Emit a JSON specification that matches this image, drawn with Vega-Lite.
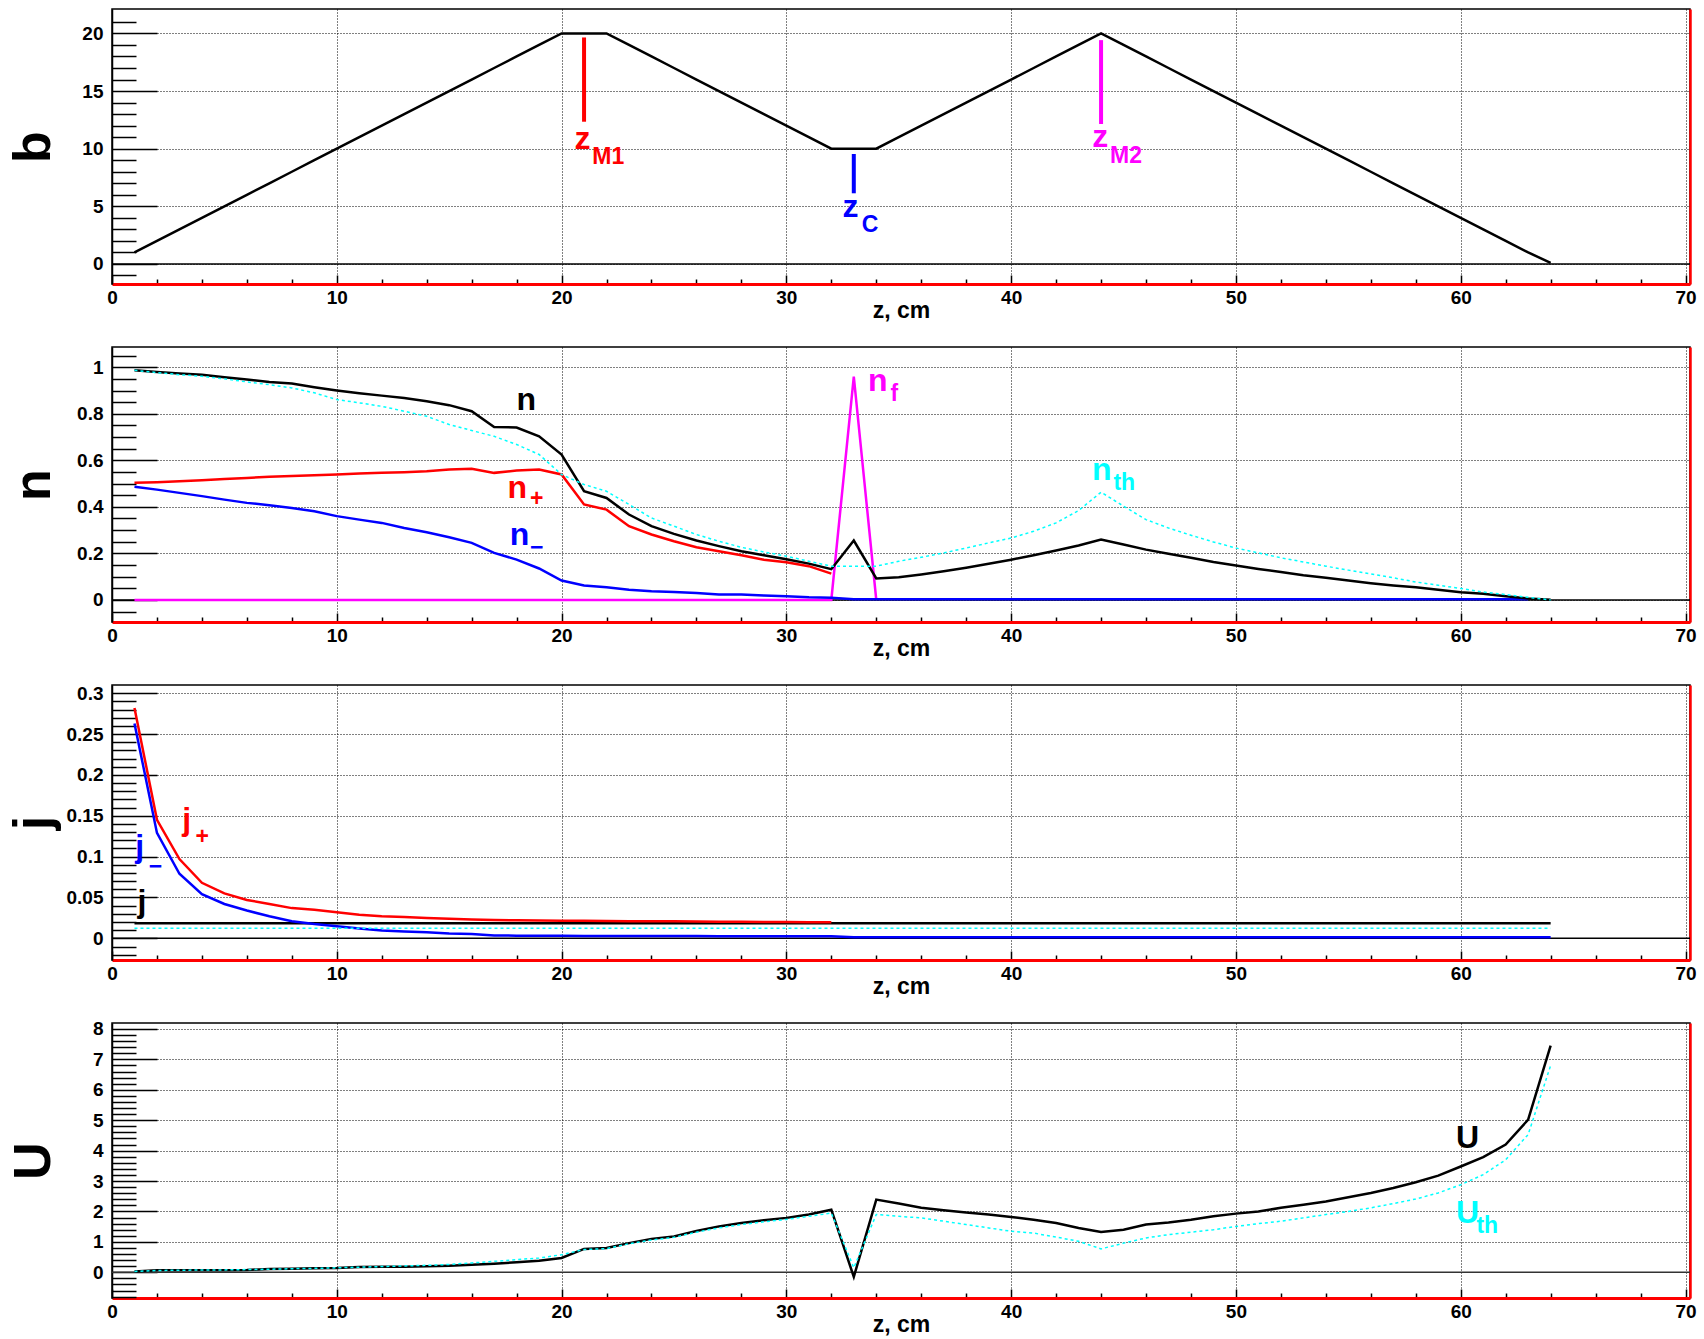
{
  "$schema": "https://vega.github.io/schema/vega-lite/v6.json",
  "background": "white",
  "padding": {"left": 6, "top": 8, "right": 6, "bottom": 0},
  "spacing": 63,
  "bounds": "flush",
  "resolve": {"scale": {"color": "independent"}},
  "config": {
    "view": {"stroke": "#000", "strokeWidth": 1.5},
    "axis": {"labelFont": "Liberation Sans", "labelFontSize": 19, "labelFontWeight": "bold", "labelColor": "#000", "titleFont": "Liberation Sans", "titleColor": "#000", "titleFontWeight": "bold", "gridColor": "#000", "gridDash": [1, 2], "gridWidth": 1, "tickColor": "#000", "tickWidth": 1.5},
    "text": {"font": "Liberation Sans"}
  },
  "datasets": {
    "one": [{"k": 0}],
    "b": [{"z":1,"b":1},{"z":2,"b":2},{"z":3,"b":3},{"z":4,"b":4},{"z":5,"b":5},{"z":6,"b":6},{"z":7,"b":7},{"z":8,"b":8},{"z":9,"b":9},{"z":10,"b":10},{"z":11,"b":11},{"z":12,"b":12},{"z":13,"b":13},{"z":14,"b":14},{"z":15,"b":15},{"z":16,"b":16},{"z":17,"b":17},{"z":18,"b":18},{"z":19,"b":19},{"z":20,"b":20},{"z":21,"b":20},{"z":22,"b":20},{"z":23,"b":19},{"z":24,"b":18},{"z":25,"b":17},{"z":26,"b":16},{"z":27,"b":15},{"z":28,"b":14},{"z":29,"b":13},{"z":30,"b":12},{"z":31,"b":11},{"z":32,"b":10},{"z":33,"b":10},{"z":34,"b":10},{"z":35,"b":11},{"z":36,"b":12},{"z":37,"b":13},{"z":38,"b":14},{"z":39,"b":15},{"z":40,"b":16},{"z":41,"b":17},{"z":42,"b":18},{"z":43,"b":19},{"z":44,"b":20},{"z":45,"b":19},{"z":46,"b":18},{"z":47,"b":17},{"z":48,"b":16},{"z":49,"b":15},{"z":50,"b":14},{"z":51,"b":13},{"z":52,"b":12},{"z":53,"b":11},{"z":54,"b":10},{"z":55,"b":9},{"z":56,"b":8},{"z":57,"b":7},{"z":58,"b":6},{"z":59,"b":5},{"z":60,"b":4},{"z":61,"b":3},{"z":62,"b":2},{"z":63,"b":1},{"z":64,"b":0.1}],
    "bmarks": [{"z":21,"y1":19.65,"y2":12.34,"k":"M1"},{"z":33,"y1":9.54,"y2":6.13,"k":"C"},{"z":44,"y1":19.42,"y2":12.14,"k":"M2"}],
    "btext": [{"z":20.58,"y":10.0,"t":"z","k":"M1"},{"z":32.5,"y":4.05,"t":"z","k":"C"},{"z":43.61,"y":10.12,"t":"z","k":"M2"}],
    "bsub": [{"z":21.37,"y":8.67,"t":"M1","k":"M1"},{"z":33.35,"y":2.75,"t":"C","k":"C"},{"z":44.4,"y":8.76,"t":"M2","k":"M2"}],
    "n": [
      {"z":1,"n":0.987,"np":0.503,"nm":0.486,"nf":0,"nth":0.987},
      {"z":2,"n":0.98,"np":0.506,"nm":0.474,"nf":0,"nth":0.977},
      {"z":3,"n":0.973,"np":0.51,"nm":0.46,"nf":0,"nth":0.968},
      {"z":4,"n":0.968,"np":0.514,"nm":0.446,"nf":0,"nth":0.961},
      {"z":5,"n":0.957,"np":0.52,"nm":0.431,"nf":0,"nth":0.95},
      {"z":6,"n":0.947,"np":0.524,"nm":0.417,"nf":0,"nth":0.937},
      {"z":7,"n":0.937,"np":0.529,"nm":0.407,"nf":0,"nth":0.925},
      {"z":8,"n":0.93,"np":0.533,"nm":0.395,"nf":0,"nth":0.911},
      {"z":9,"n":0.914,"np":0.536,"nm":0.381,"nf":0,"nth":0.89},
      {"z":10,"n":0.9,"np":0.539,"nm":0.36,"nf":0,"nth":0.861},
      {"z":11,"n":0.888,"np":0.543,"nm":0.345,"nf":0,"nth":0.847},
      {"z":12,"n":0.878,"np":0.546,"nm":0.331,"nf":0,"nth":0.832},
      {"z":13,"n":0.868,"np":0.549,"nm":0.309,"nf":0,"nth":0.811},
      {"z":14,"n":0.854,"np":0.553,"nm":0.291,"nf":0,"nth":0.789},
      {"z":15,"n":0.837,"np":0.56,"nm":0.269,"nf":0,"nth":0.754},
      {"z":16,"n":0.811,"np":0.564,"nm":0.245,"nf":0,"nth":0.728},
      {"z":17,"n":0.743,"np":0.546,"nm":0.202,"nf":0,"nth":0.703},
      {"z":18,"n":0.741,"np":0.556,"nm":0.173,"nf":0,"nth":0.668},
      {"z":19,"n":0.703,"np":0.56,"nm":0.135,"nf":0,"nth":0.625},
      {"z":20,"n":0.625,"np":0.539,"nm":0.083,"nf":0,"nth":0.539},
      {"z":21,"n":0.467,"np":0.41,"nm":0.062,"nf":0,"nth":0.496},
      {"z":22,"n":0.438,"np":0.388,"nm":0.054,"nf":0,"nth":0.467},
      {"z":23,"n":0.367,"np":0.317,"nm":0.044,"nf":0,"nth":0.41},
      {"z":24,"n":0.317,"np":0.281,"nm":0.037,"nf":0,"nth":0.352},
      {"z":25,"n":0.284,"np":0.252,"nm":0.034,"nf":0,"nth":0.317},
      {"z":26,"n":0.255,"np":0.226,"nm":0.03,"nf":0,"nth":0.281},
      {"z":27,"n":0.231,"np":0.209,"nm":0.023,"nf":0,"nth":0.252},
      {"z":28,"n":0.209,"np":0.192,"nm":0.023,"nf":0,"nth":0.226},
      {"z":29,"n":0.192,"np":0.173,"nm":0.019,"nf":0,"nth":0.206},
      {"z":30,"n":0.175,"np":0.162,"nm":0.016,"nf":0,"nth":0.188},
      {"z":31,"n":0.156,"np":0.145,"nm":0.011,"nf":0,"nth":0.166},
      {"z":32,"n":0.132,"np":0.113,"nm":0.009,"nf":0,"nth":0.145},
      {"z":33,"n":0.255,"nm":0.003,"nf":0.96,"nth":0.145},
      {"z":34,"n":0.092,"nm":0.003,"nf":0,"nth":0.145},
      {"z":35,"n":0.097,"nm":0.003,"nth":0.166},
      {"z":36,"n":0.109,"nm":0.003,"nth":0.183},
      {"z":37,"n":0.123,"nm":0.003,"nth":0.202},
      {"z":38,"n":0.138,"nm":0.003,"nth":0.223},
      {"z":39,"n":0.155,"nm":0.003,"nth":0.245},
      {"z":40,"n":0.173,"nm":0.003,"nth":0.266},
      {"z":41,"n":0.192,"nm":0.003,"nth":0.295},
      {"z":42,"n":0.212,"nm":0.003,"nth":0.331},
      {"z":43,"n":0.234,"nm":0.003,"nth":0.384},
      {"z":44,"n":0.259,"nm":0.003,"nth":0.463},
      {"z":45,"n":0.238,"nm":0.003,"nth":0.403},
      {"z":46,"n":0.216,"nm":0.003,"nth":0.345},
      {"z":47,"n":0.198,"nm":0.003,"nth":0.309},
      {"z":48,"n":0.181,"nm":0.003,"nth":0.278},
      {"z":49,"n":0.163,"nm":0.003,"nth":0.249},
      {"z":50,"n":0.148,"nm":0.003,"nth":0.223},
      {"z":51,"n":0.133,"nm":0.003,"nth":0.202},
      {"z":52,"n":0.12,"nm":0.003,"nth":0.181},
      {"z":53,"n":0.106,"nm":0.003,"nth":0.163},
      {"z":54,"n":0.095,"nm":0.003,"nth":0.145},
      {"z":55,"n":0.083,"nm":0.003,"nth":0.128},
      {"z":56,"n":0.072,"nm":0.003,"nth":0.112},
      {"z":57,"n":0.062,"nm":0.003,"nth":0.095},
      {"z":58,"n":0.054,"nm":0.003,"nth":0.077},
      {"z":59,"n":0.044,"nm":0.003,"nth":0.063},
      {"z":60,"n":0.033,"nm":0.003,"nth":0.049},
      {"z":61,"n":0.026,"nm":0.003,"nth":0.034},
      {"z":62,"n":0.016,"nm":0.003,"nth":0.023},
      {"z":63,"n":0.006,"nm":0.003,"nth":0.011},
      {"z":64,"n":0.001,"nth":0.0}
    ],
    "ntext": [{"z":18.0,"y":0.818,"t":"n","k":"n"},{"z":17.6,"y":0.438,"t":"n","k":"np"},{"z":17.7,"y":0.238,"t":"n","k":"nm"},{"z":33.63,"y":0.897,"t":"n","k":"nf"},{"z":43.6,"y":0.517,"t":"n","k":"nth"}],
    "nsub": [{"z":18.6,"y":0.403,"t":"+","k":"np"},{"z":18.6,"y":0.193,"t":"−","k":"nm"},{"z":34.63,"y":0.854,"t":"f","k":"nf"},{"z":44.55,"y":0.474,"t":"th","k":"nth"}],
    "j": [
      {"z":1,"j":0.0185,"jp":0.282,"jm":0.263,"jth":0.0122},
      {"z":2,"j":0.0185,"jp":0.145,"jm":0.129,"jth":0.0122},
      {"z":3,"j":0.0185,"jp":0.097,"jm":0.079,"jth":0.0122},
      {"z":4,"j":0.0185,"jp":0.068,"jm":0.054,"jth":0.0122},
      {"z":5,"j":0.0185,"jp":0.055,"jm":0.042,"jth":0.0122},
      {"z":6,"j":0.0185,"jp":0.047,"jm":0.034,"jth":0.0122},
      {"z":7,"j":0.0185,"jp":0.042,"jm":0.027,"jth":0.0122},
      {"z":8,"j":0.0185,"jp":0.037,"jm":0.021,"jth":0.0122},
      {"z":9,"j":0.0185,"jp":0.035,"jm":0.0175,"jth":0.0122},
      {"z":10,"j":0.0185,"jp":0.032,"jm":0.0148,"jth":0.0122},
      {"z":11,"j":0.0185,"jp":0.029,"jm":0.012,"jth":0.0122},
      {"z":12,"j":0.0185,"jp":0.027,"jm":0.0095,"jth":0.0122},
      {"z":13,"j":0.0185,"jp":0.026,"jm":0.0085,"jth":0.0122},
      {"z":14,"j":0.0185,"jp":0.025,"jm":0.0075,"jth":0.0122},
      {"z":15,"j":0.0185,"jp":0.024,"jm":0.006,"jth":0.0122},
      {"z":16,"j":0.0185,"jp":0.023,"jm":0.0052,"jth":0.0122},
      {"z":17,"j":0.0185,"jp":0.0225,"jm":0.0035,"jth":0.0122},
      {"z":18,"j":0.0185,"jp":0.022,"jm":0.0033,"jth":0.0122},
      {"z":19,"j":0.0185,"jp":0.0218,"jm":0.0032,"jth":0.0122},
      {"z":20,"j":0.0185,"jp":0.0216,"jm":0.0031,"jth":0.0122},
      {"z":21,"j":0.0185,"jp":0.0214,"jm":0.003,"jth":0.0122},
      {"z":22,"j":0.0185,"jp":0.0212,"jm":0.003,"jth":0.0122},
      {"z":23,"j":0.0185,"jp":0.021,"jm":0.0029,"jth":0.0122},
      {"z":24,"j":0.0185,"jp":0.021,"jm":0.0029,"jth":0.0122},
      {"z":25,"j":0.0185,"jp":0.0208,"jm":0.0028,"jth":0.0122},
      {"z":26,"j":0.0185,"jp":0.0206,"jm":0.0028,"jth":0.0122},
      {"z":27,"j":0.0185,"jp":0.0204,"jm":0.0027,"jth":0.0122},
      {"z":28,"j":0.0185,"jp":0.0202,"jm":0.0027,"jth":0.0122},
      {"z":29,"j":0.0185,"jp":0.02,"jm":0.0026,"jth":0.0122},
      {"z":30,"j":0.0185,"jp":0.02,"jm":0.0026,"jth":0.0122},
      {"z":31,"j":0.0185,"jp":0.0198,"jm":0.0025,"jth":0.0122},
      {"z":32,"j":0.0185,"jp":0.0196,"jm":0.0025,"jth":0.0122},
      {"z":33,"j":0.0185,"jm":0.0013,"jth":0.0122},
      {"z":34,"j":0.0185,"jm":0.0013,"jth":0.0122},
      {"z":35,"j":0.0185,"jm":0.0013,"jth":0.0122},
      {"z":36,"j":0.0185,"jm":0.0013,"jth":0.0122},
      {"z":37,"j":0.0185,"jm":0.0013,"jth":0.0122},
      {"z":38,"j":0.0185,"jm":0.0013,"jth":0.0122},
      {"z":39,"j":0.0185,"jm":0.0013,"jth":0.0122},
      {"z":40,"j":0.0185,"jm":0.0013,"jth":0.0122},
      {"z":41,"j":0.0185,"jm":0.0013,"jth":0.0122},
      {"z":42,"j":0.0185,"jm":0.0013,"jth":0.0122},
      {"z":43,"j":0.0185,"jm":0.0013,"jth":0.0122},
      {"z":44,"j":0.0185,"jm":0.0013,"jth":0.0122},
      {"z":45,"j":0.0185,"jm":0.0013,"jth":0.0122},
      {"z":46,"j":0.0185,"jm":0.0013,"jth":0.0122},
      {"z":47,"j":0.0185,"jm":0.0013,"jth":0.0122},
      {"z":48,"j":0.0185,"jm":0.0013,"jth":0.0122},
      {"z":49,"j":0.0185,"jm":0.0013,"jth":0.0122},
      {"z":50,"j":0.0185,"jm":0.0013,"jth":0.0122},
      {"z":51,"j":0.0185,"jm":0.0013,"jth":0.0122},
      {"z":52,"j":0.0185,"jm":0.0013,"jth":0.0122},
      {"z":53,"j":0.0185,"jm":0.0013,"jth":0.0122},
      {"z":54,"j":0.0185,"jm":0.0013,"jth":0.0122},
      {"z":55,"j":0.0185,"jm":0.0013,"jth":0.0122},
      {"z":56,"j":0.0185,"jm":0.0013,"jth":0.0122},
      {"z":57,"j":0.0185,"jm":0.0013,"jth":0.0122},
      {"z":58,"j":0.0185,"jm":0.0013,"jth":0.0122},
      {"z":59,"j":0.0185,"jm":0.0013,"jth":0.0122},
      {"z":60,"j":0.0185,"jm":0.0013,"jth":0.0122},
      {"z":61,"j":0.0185,"jm":0.0013,"jth":0.0122},
      {"z":62,"j":0.0185,"jm":0.0013,"jth":0.0122},
      {"z":63,"j":0.0185,"jm":0.0013,"jth":0.0122},
      {"z":64,"j":0.0185,"jm":0.0013,"jth":0.0122}
    ],
    "jtext": [{"z":3.12,"y":0.1327,"t":"j","k":"jp"},{"z":1.03,"y":0.1,"t":"j","k":"jm"},{"z":1.13,"y":0.0327,"t":"j","k":"j"}],
    "jsub": [{"z":3.71,"y":0.116,"t":"+","k":"jp"},{"z":1.63,"y":0.079,"t":"−","k":"jm"}],
    "U": [
      {"z":1,"U":0.03,"Uth":0.03},{"z":2,"U":0.066,"Uth":0.06},{"z":3,"U":0.066,"Uth":0.07},{"z":4,"U":0.07,"Uth":0.075},{"z":5,"U":0.07,"Uth":0.08},
      {"z":6,"U":0.075,"Uth":0.09},{"z":7,"U":0.11,"Uth":0.1},{"z":8,"U":0.12,"Uth":0.12},{"z":9,"U":0.13,"Uth":0.13},{"z":10,"U":0.14,"Uth":0.15},
      {"z":11,"U":0.175,"Uth":0.17},{"z":12,"U":0.18,"Uth":0.19},{"z":13,"U":0.185,"Uth":0.21},{"z":14,"U":0.2,"Uth":0.23},{"z":15,"U":0.22,"Uth":0.26},
      {"z":16,"U":0.25,"Uth":0.31},{"z":17,"U":0.285,"Uth":0.36},{"z":18,"U":0.33,"Uth":0.42},{"z":19,"U":0.38,"Uth":0.47},{"z":20,"U":0.47,"Uth":0.58},
      {"z":21,"U":0.77,"Uth":0.75},{"z":22,"U":0.8,"Uth":0.78},{"z":23,"U":0.96,"Uth":0.94},{"z":24,"U":1.1,"Uth":1.06},{"z":25,"U":1.18,"Uth":1.15},
      {"z":26,"U":1.36,"Uth":1.32},{"z":27,"U":1.51,"Uth":1.46},{"z":28,"U":1.62,"Uth":1.57},{"z":29,"U":1.71,"Uth":1.66},{"z":30,"U":1.79,"Uth":1.74},
      {"z":31,"U":1.9,"Uth":1.84},{"z":32,"U":2.06,"Uth":1.95},{"z":33,"U":-0.15,"Uth":0.15},{"z":34,"U":2.39,"Uth":1.9},{"z":35,"U":2.26,"Uth":1.84},
      {"z":36,"U":2.12,"Uth":1.79},{"z":37,"U":2.04,"Uth":1.68},{"z":38,"U":1.97,"Uth":1.57},{"z":39,"U":1.9,"Uth":1.46},{"z":40,"U":1.82,"Uth":1.35},
      {"z":41,"U":1.73,"Uth":1.29},{"z":42,"U":1.62,"Uth":1.16},{"z":43,"U":1.46,"Uth":1.02},{"z":44,"U":1.33,"Uth":0.77},{"z":45,"U":1.4,"Uth":0.96},
      {"z":46,"U":1.57,"Uth":1.13},{"z":47,"U":1.64,"Uth":1.24},{"z":48,"U":1.73,"Uth":1.32},{"z":49,"U":1.84,"Uth":1.4},{"z":50,"U":1.93,"Uth":1.51},
      {"z":51,"U":2.0,"Uth":1.6},{"z":52,"U":2.12,"Uth":1.68},{"z":53,"U":2.22,"Uth":1.79},{"z":54,"U":2.33,"Uth":1.9},{"z":55,"U":2.47,"Uth":2.0},
      {"z":56,"U":2.61,"Uth":2.12},{"z":57,"U":2.77,"Uth":2.26},{"z":58,"U":2.96,"Uth":2.41},{"z":59,"U":3.18,"Uth":2.61},{"z":60,"U":3.48,"Uth":2.88},
      {"z":61,"U":3.79,"Uth":3.21},{"z":62,"U":4.2,"Uth":3.7},{"z":63,"U":5.02,"Uth":4.53},{"z":64,"U":7.45,"Uth":6.8}
    ],
    "Utext": [{"z":59.79,"y":4.09,"t":"U","k":"U"},{"z":59.79,"y":1.62,"t":"U","k":"Uth"}],
    "Usub": [{"z":60.7,"y":1.29,"t":"th","k":"Uth"}]
  },
  "vconcat": [
    {
      "width": 1578, "height": 275,
      "resolve": {"axis": {"x": "independent", "y": "independent"}},
      "layer": [
        {"data": {"name": "one"}, "mark": {"type": "rule", "color": "#000", "strokeWidth": 1.5},
         "encoding": {"y": {"datum": 0, "type": "quantitative", "axis": {"orient": "right", "domainColor": "#ff0000", "domainWidth": 2.5, "ticks": false, "labels": false, "grid": false, "title": null}}}},
        {"data": {"name": "b"}, "mark": {"type": "line", "color": "#000", "strokeWidth": 2.5},
         "encoding": {
           "x": {"field": "z", "type": "quantitative", "scale": {"domain": [0, 70.2], "nice": false, "zero": false},
                 "axis": {"orient": "bottom", "values": [0,2,4,6,8,10,12,14,16,18,20,22,24,26,28,30,32,34,36,38,40,42,44,46,48,50,52,54,56,58,60,62,64,66,68,70], "labelExpr": "datum.value % 10 === 0 ? datum.label : ''", "tickSize": {"condition": {"test": "datum.value % 10 === 0", "value": -9}, "value": -5}, "labelPadding": 13, "labelFlush": false, "labelOverlap": false, "labelBound": false, "grid": true, "gridOpacity": {"condition": {"test": "datum.value % 10 === 0 && datum.value > 0", "value": 1}, "value": 0}, "domainColor": "#ff0000", "domainWidth": 3, "title": "z, cm", "titleFontSize": 23, "titleY": 33, "titleBaseline": "alphabetic"}},
           "y": {"field": "b", "type": "quantitative", "scale": {"domain": [-1.74, 22.12], "nice": false, "zero": false},
                 "axis": {"orient": "left", "format": "~g", "values": [-1,0,1,2,3,4,5,6,7,8,9,10,11,12,13,14,15,16,17,18,19,20,21], "labelExpr": "datum.value % 5 === 0 ? datum.label : ''", "tickSize": {"condition": {"test": "datum.value % 5 === 0", "value": -45}, "value": -24}, "labelPadding": 54, "labelOverlap": false, "labelFlush": false, "labelBound": false, "grid": true, "gridOpacity": {"condition": {"test": "datum.value % 5 === 0", "value": 1}, "value": 0}, "domainColor": "#000", "domainWidth": 1.5, "title": "b", "titleFontSize": 52, "titleX": -63, "titleBaseline": "alphabetic", "titleAngle": 270}}
         }},
        {"data": {"name": "bmarks"}, "mark": {"type": "rule", "strokeWidth": 4},
         "encoding": {"x": {"field": "z", "type": "quantitative", "axis": null}, "y": {"field": "y1", "type": "quantitative", "axis": null}, "y2": {"field": "y2"},
                      "color": {"field": "k", "type": "nominal", "scale": {"domain": ["M1","C","M2"], "range": ["#ff0000","#0000ff","#ff00ff"]}, "legend": null}}},
        {"data": {"name": "btext"}, "mark": {"type": "text", "align": "left", "baseline": "alphabetic", "fontSize": 32, "fontWeight": "bold"},
         "encoding": {"x": {"field": "z", "type": "quantitative", "axis": null}, "y": {"field": "y", "type": "quantitative", "axis": null}, "text": {"field": "t"},
                      "color": {"field": "k", "type": "nominal", "legend": null}}},
        {"data": {"name": "bsub"}, "mark": {"type": "text", "align": "left", "baseline": "alphabetic", "fontSize": 23, "fontWeight": "bold"},
         "encoding": {"x": {"field": "z", "type": "quantitative", "axis": null}, "y": {"field": "y", "type": "quantitative", "axis": null}, "text": {"field": "t"},
                      "color": {"field": "k", "type": "nominal", "legend": null}}}
      ]
    },
    {
      "width": 1578, "height": 275,
      "resolve": {"axis": {"x": "independent", "y": "independent"}},
      "layer": [
        {"data": {"name": "one"}, "mark": {"type": "rule", "color": "#000", "strokeWidth": 1.5},
         "encoding": {"y": {"datum": 0, "type": "quantitative", "axis": {"orient": "right", "domainColor": "#ff0000", "domainWidth": 2.5, "ticks": false, "labels": false, "grid": false, "title": null}}}},
        {"data": {"name": "n"}, "mark": {"type": "line", "color": "#ff00ff", "strokeWidth": 2.5},
         "encoding": {
           "x": {"field": "z", "type": "quantitative", "scale": {"domain": [0, 70.2], "nice": false, "zero": false},
                 "axis": {"orient": "bottom", "values": [0,2,4,6,8,10,12,14,16,18,20,22,24,26,28,30,32,34,36,38,40,42,44,46,48,50,52,54,56,58,60,62,64,66,68,70], "labelExpr": "datum.value % 10 === 0 ? datum.label : ''", "tickSize": {"condition": {"test": "datum.value % 10 === 0", "value": -9}, "value": -5}, "labelPadding": 13, "labelFlush": false, "labelOverlap": false, "labelBound": false, "grid": true, "gridOpacity": {"condition": {"test": "datum.value % 10 === 0 && datum.value > 0", "value": 1}, "value": 0}, "domainColor": "#ff0000", "domainWidth": 3, "title": "z, cm", "titleFontSize": 23, "titleY": 33, "titleBaseline": "alphabetic"}},
           "y": {"field": "nf", "type": "quantitative", "scale": {"domain": [-0.095, 1.087], "nice": false, "zero": false},
                 "axis": {"orient": "left", "format": "~g", "values": [-0.05,0,0.05,0.1,0.15,0.2,0.25,0.3,0.35,0.4,0.45,0.5,0.55,0.6,0.65,0.7,0.75,0.8,0.85,0.9,0.95,1,1.05], "labelExpr": "abs(datum.value*5 - round(datum.value*5)) < 0.001 ? datum.label : ''", "tickSize": {"condition": {"test": "abs(datum.value*5 - round(datum.value*5)) < 0.001", "value": -45}, "value": -24}, "labelPadding": 54, "labelOverlap": false, "labelFlush": false, "labelBound": false, "grid": true, "gridOpacity": {"condition": {"test": "abs(datum.value*5 - round(datum.value*5)) < 0.001", "value": 1}, "value": 0}, "domainColor": "#000", "domainWidth": 1.5, "title": "n", "titleFontSize": 52, "titleX": -63, "titleBaseline": "alphabetic", "titleAngle": 270}}
         }},
        {"data": {"name": "n"}, "mark": {"type": "line", "color": "#ff0000", "strokeWidth": 2.5},
         "encoding": {"x": {"field": "z", "type": "quantitative", "axis": null}, "y": {"field": "np", "type": "quantitative", "axis": null}}},
        {"data": {"name": "n"}, "mark": {"type": "line", "color": "#0000ff", "strokeWidth": 2.5},
         "encoding": {"x": {"field": "z", "type": "quantitative", "axis": null}, "y": {"field": "nm", "type": "quantitative", "axis": null}}},
        {"data": {"name": "n"}, "mark": {"type": "line", "color": "#000000", "strokeWidth": 2.5},
         "encoding": {"x": {"field": "z", "type": "quantitative", "axis": null}, "y": {"field": "n", "type": "quantitative", "axis": null}}},
        {"data": {"name": "n"}, "mark": {"type": "line", "color": "#00ffff", "strokeWidth": 1.5, "strokeDash": [3, 3]},
         "encoding": {"x": {"field": "z", "type": "quantitative", "axis": null}, "y": {"field": "nth", "type": "quantitative", "axis": null}}},
        {"data": {"name": "ntext"}, "mark": {"type": "text", "align": "left", "baseline": "alphabetic", "fontSize": 32, "fontWeight": "bold"},
         "encoding": {"x": {"field": "z", "type": "quantitative", "axis": null}, "y": {"field": "y", "type": "quantitative", "axis": null}, "text": {"field": "t"},
                      "color": {"field": "k", "type": "nominal", "scale": {"domain": ["n","np","nm","nf","nth"], "range": ["#000000","#ff0000","#0000ff","#ff00ff","#00ffff"]}, "legend": null}}},
        {"data": {"name": "nsub"}, "mark": {"type": "text", "align": "left", "baseline": "alphabetic", "fontSize": 23, "fontWeight": "bold"},
         "encoding": {"x": {"field": "z", "type": "quantitative", "axis": null}, "y": {"field": "y", "type": "quantitative", "axis": null}, "text": {"field": "t"},
                      "color": {"field": "k", "type": "nominal", "legend": null}}}
      ]
    },
    {
      "width": 1578, "height": 275,
      "resolve": {"axis": {"x": "independent", "y": "independent"}},
      "layer": [
        {"data": {"name": "one"}, "mark": {"type": "rule", "color": "#000", "strokeWidth": 1.5},
         "encoding": {"y": {"datum": 0, "type": "quantitative", "axis": {"orient": "right", "domainColor": "#ff0000", "domainWidth": 2.5, "ticks": false, "labels": false, "grid": false, "title": null}}}},
        {"data": {"name": "j"}, "mark": {"type": "line", "color": "#000000", "strokeWidth": 2.5},
         "encoding": {
           "x": {"field": "z", "type": "quantitative", "scale": {"domain": [0, 70.2], "nice": false, "zero": false},
                 "axis": {"orient": "bottom", "values": [0,2,4,6,8,10,12,14,16,18,20,22,24,26,28,30,32,34,36,38,40,42,44,46,48,50,52,54,56,58,60,62,64,66,68,70], "labelExpr": "datum.value % 10 === 0 ? datum.label : ''", "tickSize": {"condition": {"test": "datum.value % 10 === 0", "value": -9}, "value": -5}, "labelPadding": 13, "labelFlush": false, "labelOverlap": false, "labelBound": false, "grid": true, "gridOpacity": {"condition": {"test": "datum.value % 10 === 0 && datum.value > 0", "value": 1}, "value": 0}, "domainColor": "#ff0000", "domainWidth": 3, "title": "z, cm", "titleFontSize": 23, "titleY": 33, "titleBaseline": "alphabetic"}},
           "y": {"field": "j", "type": "quantitative", "scale": {"domain": [-0.0265, 0.31], "nice": false, "zero": false},
                 "axis": {"orient": "left", "format": "~g", "values": [-0.02,-0.01,0,0.01,0.02,0.03,0.04,0.05,0.06,0.07,0.08,0.09,0.1,0.11,0.12,0.13,0.14,0.15,0.16,0.17,0.18,0.19,0.2,0.21,0.22,0.23,0.24,0.25,0.26,0.27,0.28,0.29,0.3], "labelExpr": "abs(datum.value*20 - round(datum.value*20)) < 0.001 ? datum.label : ''", "tickSize": {"condition": {"test": "abs(datum.value*20 - round(datum.value*20)) < 0.001", "value": -45}, "value": -24}, "labelPadding": 54, "labelOverlap": false, "labelFlush": false, "labelBound": false, "grid": true, "gridOpacity": {"condition": {"test": "abs(datum.value*20 - round(datum.value*20)) < 0.001", "value": 1}, "value": 0}, "domainColor": "#000", "domainWidth": 1.5, "title": "j", "titleFontSize": 52, "titleX": -63, "titleBaseline": "alphabetic", "titleAngle": 270}}
         }},
        {"data": {"name": "j"}, "mark": {"type": "line", "color": "#ff0000", "strokeWidth": 2.5},
         "encoding": {"x": {"field": "z", "type": "quantitative", "axis": null}, "y": {"field": "jp", "type": "quantitative", "axis": null}}},
        {"data": {"name": "j"}, "mark": {"type": "line", "color": "#0000ff", "strokeWidth": 2.5},
         "encoding": {"x": {"field": "z", "type": "quantitative", "axis": null}, "y": {"field": "jm", "type": "quantitative", "axis": null}}},
        {"data": {"name": "j"}, "mark": {"type": "line", "color": "#00ffff", "strokeWidth": 1.5, "strokeDash": [3, 3]},
         "encoding": {"x": {"field": "z", "type": "quantitative", "axis": null}, "y": {"field": "jth", "type": "quantitative", "axis": null}}},
        {"data": {"name": "jtext"}, "mark": {"type": "text", "align": "left", "baseline": "alphabetic", "fontSize": 32, "fontWeight": "bold"},
         "encoding": {"x": {"field": "z", "type": "quantitative", "axis": null}, "y": {"field": "y", "type": "quantitative", "axis": null}, "text": {"field": "t"},
                      "color": {"field": "k", "type": "nominal", "scale": {"domain": ["j","jp","jm"], "range": ["#000000","#ff0000","#0000ff"]}, "legend": null}}},
        {"data": {"name": "jsub"}, "mark": {"type": "text", "align": "left", "baseline": "alphabetic", "fontSize": 23, "fontWeight": "bold"},
         "encoding": {"x": {"field": "z", "type": "quantitative", "axis": null}, "y": {"field": "y", "type": "quantitative", "axis": null}, "text": {"field": "t"},
                      "color": {"field": "k", "type": "nominal", "legend": null}}}
      ]
    },
    {
      "width": 1578, "height": 275,
      "resolve": {"axis": {"x": "independent", "y": "independent"}},
      "layer": [
        {"data": {"name": "one"}, "mark": {"type": "rule", "color": "#333", "strokeWidth": 1.5},
         "encoding": {"y": {"datum": 0, "type": "quantitative", "axis": {"orient": "right", "domainColor": "#ff0000", "domainWidth": 2.5, "ticks": false, "labels": false, "grid": false, "title": null}}}},
        {"data": {"name": "U"}, "mark": {"type": "line", "color": "#000000", "strokeWidth": 2.5},
         "encoding": {
           "x": {"field": "z", "type": "quantitative", "scale": {"domain": [0, 70.2], "nice": false, "zero": false},
                 "axis": {"orient": "bottom", "values": [0,2,4,6,8,10,12,14,16,18,20,22,24,26,28,30,32,34,36,38,40,42,44,46,48,50,52,54,56,58,60,62,64,66,68,70], "labelExpr": "datum.value % 10 === 0 ? datum.label : ''", "tickSize": {"condition": {"test": "datum.value % 10 === 0", "value": -9}, "value": -5}, "labelPadding": 13, "labelFlush": false, "labelOverlap": false, "labelBound": false, "grid": true, "gridOpacity": {"condition": {"test": "datum.value % 10 === 0 && datum.value > 0", "value": 1}, "value": 0}, "domainColor": "#ff0000", "domainWidth": 3, "title": "z, cm", "titleFontSize": 23, "titleY": 33, "titleBaseline": "alphabetic"}},
           "y": {"field": "U", "type": "quantitative", "scale": {"domain": [-0.844, 8.197], "nice": false, "zero": false},
                 "axis": {"orient": "left", "format": "~g", "values": [-0.8,-0.6,-0.4,-0.2,0,0.2,0.4,0.6,0.8,1,1.2,1.4,1.6,1.8,2,2.2,2.4,2.6,2.8,3,3.2,3.4,3.6,3.8,4,4.2,4.4,4.6,4.8,5,5.2,5.4,5.6,5.8,6,6.2,6.4,6.6,6.8,7,7.2,7.4,7.6,7.8,8], "labelExpr": "abs(datum.value - round(datum.value)) < 0.001 ? datum.label : ''", "tickSize": {"condition": {"test": "abs(datum.value - round(datum.value)) < 0.001", "value": -45}, "value": -24}, "labelPadding": 54, "labelOverlap": false, "labelFlush": false, "labelBound": false, "grid": true, "gridOpacity": {"condition": {"test": "abs(datum.value - round(datum.value)) < 0.001", "value": 1}, "value": 0}, "domainColor": "#000", "domainWidth": 1.5, "title": "U", "titleFontSize": 52, "titleX": -63, "titleBaseline": "alphabetic", "titleAngle": 270}}
         }},
        {"data": {"name": "U"}, "mark": {"type": "line", "color": "#00ffff", "strokeWidth": 1.5, "strokeDash": [3, 3]},
         "encoding": {"x": {"field": "z", "type": "quantitative", "axis": null}, "y": {"field": "Uth", "type": "quantitative", "axis": null}}},
        {"data": {"name": "Utext"}, "mark": {"type": "text", "align": "left", "baseline": "alphabetic", "fontSize": 32, "fontWeight": "bold"},
         "encoding": {"x": {"field": "z", "type": "quantitative", "axis": null}, "y": {"field": "y", "type": "quantitative", "axis": null}, "text": {"field": "t"},
                      "color": {"field": "k", "type": "nominal", "scale": {"domain": ["U","Uth"], "range": ["#000000","#00ffff"]}, "legend": null}}},
        {"data": {"name": "Usub"}, "mark": {"type": "text", "align": "left", "baseline": "alphabetic", "fontSize": 23, "fontWeight": "bold"},
         "encoding": {"x": {"field": "z", "type": "quantitative", "axis": null}, "y": {"field": "y", "type": "quantitative", "axis": null}, "text": {"field": "t"},
                      "color": {"field": "k", "type": "nominal", "legend": null}}}
      ]
    }
  ]
}
